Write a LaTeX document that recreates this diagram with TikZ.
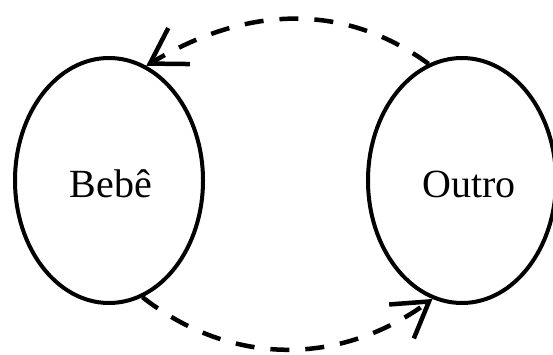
\documentclass[tikz,border=0pt]{standalone}
\usepackage{fontspec}
\setmainfont{Liberation Serif}
\usetikzlibrary{shapes.geometric,arrows.meta}
\begin{document}
\begin{tikzpicture}[x=1pt,y=1pt,
  agent/.style={ellipse,draw,line width=4pt,inner sep=0pt,
    minimum width=188pt,minimum height=245pt},
  label/.style={font=\fontsize{40}{48}\selectfont,anchor=base},
  flow/.style={line width=4.5pt,dash pattern=on 19pt off 16pt,
    -{Straight Barb[length=34pt,width=42pt,line width=4.5pt]}}]
  \useasboundingbox (0,0) rectangle (553,354);
  % the two partners of the exchange
  \node[agent] (B) at (109,173.5) {};
  \node[agent] (O) at (462,173.5) {};
  \node[label] (tb) at (111,157) {Bebê};
  \node[label] (to) at (469,157) {Outro};
  % exchange in both directions
  \draw[flow] (O.106) to[out=144,in=31] (B.72);
  \draw[flow] (B.286) to[out=-38,in=216] (O.256);
\end{tikzpicture}
\end{document}
